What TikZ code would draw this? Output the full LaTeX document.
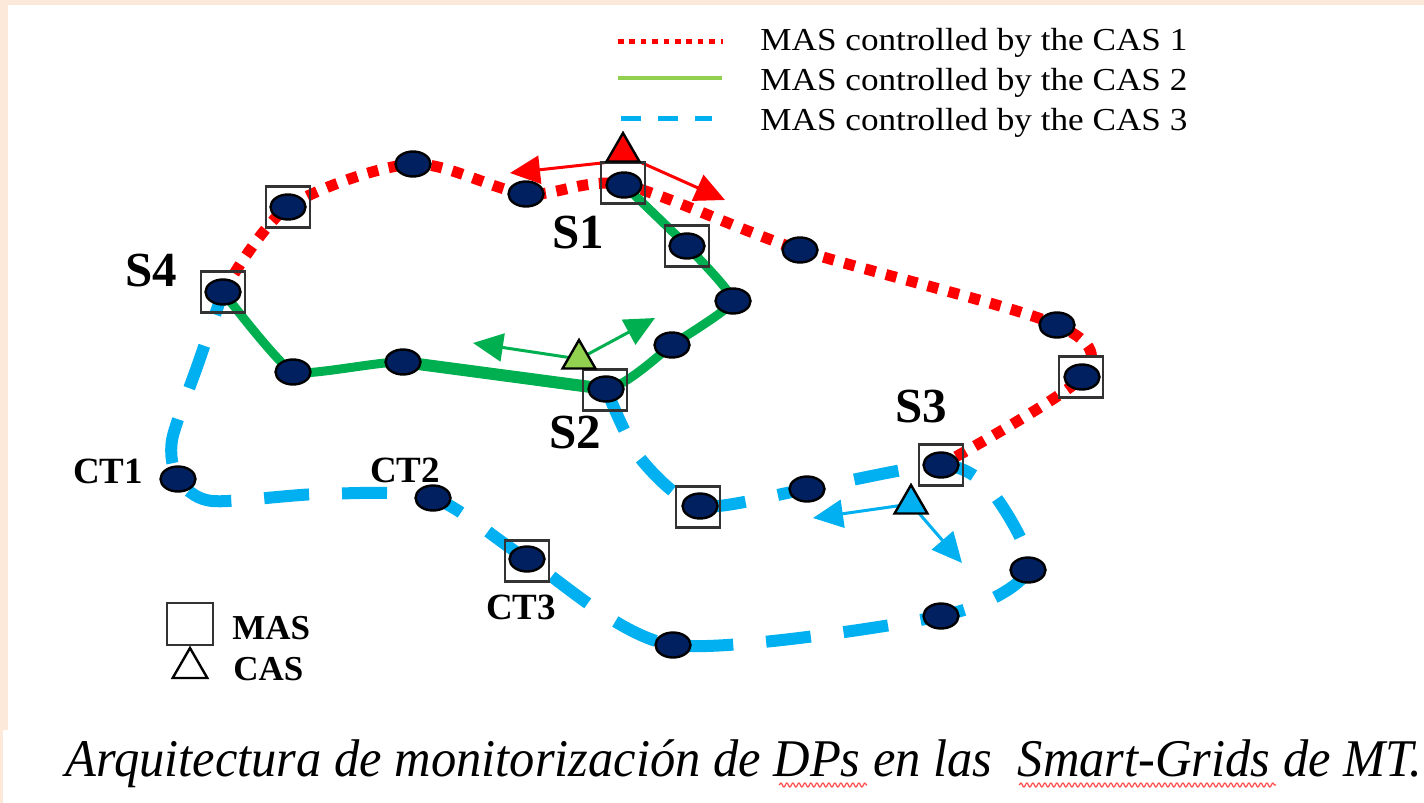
\documentclass[tikz,border=0pt]{standalone}
\usepackage{fontspec}
\setmainfont{Liberation Serif}
\usepackage{graphicx}
\usetikzlibrary{arrows.meta,shapes.geometric,decorations.pathmorphing}
\definecolor{dpnavy}{HTML}{002060}
\definecolor{casred}{HTML}{FF0000}
\definecolor{casgreen}{HTML}{00B050}
\definecolor{lightgreen}{HTML}{92D050}
\definecolor{casblue}{HTML}{00B0F0}
\definecolor{peach}{HTML}{FDE9D9}
\pgfdeclarelayer{paper}
\pgfdeclarelayer{bg}
\pgfdeclarelayer{arr}
\pgfsetlayers{paper,bg,arr,main}
\begin{document}
\begin{tikzpicture}[x=0.5pt,y=-0.5pt,
  dp/.style={ellipse,draw=black,line width=1.2pt,fill=dpnavy,minimum width=17.5pt,minimum height=12.5pt,inner sep=0pt},
  masbox/.style={rectangle,draw=black!80,line width=1.3pt,minimum width=22pt,minimum height=20.5pt,inner sep=0pt},
  castri/.style={regular polygon,regular polygon sides=3,draw=black,line width=1.2pt,minimum size=19pt,inner sep=0pt},
  redroute/.style={draw=casred,line width=5.5pt,dash pattern=on 5.5pt off 5.3pt},
  greenroute/.style={draw=casgreen,line width=4.5pt,line join=round,line cap=round},
  blueroute/.style={draw=casblue,line width=6pt,dash pattern=on 22.5pt off 16.5pt},
  casarrow/.style={line width=1.5pt,-{Triangle[length=15pt,width=14pt]}},
  slabel/.style={inner sep=0pt,font=\fontsize{24.5}{28}\selectfont\bfseries},
  ctlabel/.style={inner sep=0pt,font=\fontsize{18.5}{22}\selectfont\bfseries},
  keylabel/.style={anchor=west,inner sep=0pt,font=\fontsize{17.5}{21}\selectfont\bfseries},
  legtext/.style={anchor=base west,inner sep=0pt,font=\fontsize{16}{19}\selectfont},
  squiggle/.style={draw=red!70,line width=0.6pt,decorate,decoration={snake,amplitude=1pt,segment length=3pt}}
]
\useasboundingbox (0,0) rectangle (1424,803);
\begin{pgfonlayer}{paper}
\fill[white] (0,0) rectangle (1424,803);
\fill[peach] (0,0) rectangle (1424,5);
\fill[peach] (0,0) rectangle (8,730);
\fill[peach] (0,730) rectangle (3,803);
\end{pgfonlayer}

% distribution points
\node[dp] (s4) at (223,292) {};
\node[dp] (r1) at (288,207) {};
\node[dp] (r2) at (413,164) {};
\node[dp] (r3) at (526,194) {};
\node[dp] (s1) at (624,185) {};
\node[dp] (r4) at (800,250) {};
\node[dp] (r5) at (1057,325) {};
\node[dp] (r6) at (1082,377) {};
\node[dp] (s3) at (941,465) {};
\node[dp] (g1) at (687,246) {};
\node[dp] (g2) at (733,301) {};
\node[dp] (g3) at (672,345) {};
\node[dp] (s2) at (606,389) {};
\node[dp] (g4) at (403,362) {};
\node[dp] (g5) at (293,372) {};
\node[dp] (b1) at (700,506) {};
\node[dp] (b2) at (807,489) {};
\node[dp] (b3) at (1028,570) {};
\node[dp] (b4) at (941,616) {};
\node[dp] (b5) at (673,645) {};
\node[dp] (ct3) at (527,559) {};
\node[dp] (ct2) at (433,498) {};
\node[dp] (ct1) at (178,479) {};

% MAS boxes
\node[masbox] (m-s4) at (223,292) {};
\node[masbox] (m-r1) at (288,207) {};
\node[masbox] (m-s1) at (623,183) {};
\node[masbox] (m-g1) at (687,246) {};
\node[masbox] (m-r6) at (1081,377) {};
\node[masbox] (m-s3) at (941,465) {};
\node[masbox] (m-s2) at (605,390) {};
\node[masbox] (m-b1) at (698,507) {};
\node[masbox] (m-ct3) at (527,561) {};

% CAS triangles
\node[castri,fill=casred] (cas1) at (623,152) {};
\node[castri,fill=lightgreen] (cas2) at (579,359) {};
\node[castri,fill=casblue] (cas3) at (911,504) {};

% helper coordinates
\coordinate (k1) at (640,458);
\coordinate (k2) at (992,492);
\coordinate (k3) at (320,494);
\coordinate (k4) at (212,501);
\coordinate (k5) at (172,440);
\coordinate (k6) at (198,364);

\begin{pgfonlayer}{bg}
\draw[redroute] plot[smooth,tension=0.5] coordinates {(s4.center) (r1.center) (r2.center) (r3.center) (s1.center) (r4.center) (r5.center) (r6.center) (s3.center)};
\draw[greenroute] plot[smooth,tension=0.25] coordinates {(s4.center) (g5.center) (g4.center) (s2.center) (g3.center) (g2.center) (g1.center) (s1.center)};
\draw[casgreen,line width=6pt] (g4.center) -- (s2.center);
\draw[blueroute] plot[smooth,tension=0.45] coordinates {(s2.center) (k1) (b1.center) (b2.center) (s3.center) (k2) (b3.center) (b4.center) (b5.center) (ct3.center) (ct2.center) (k3) (k4) (ct1.center) (k5) (k6) (s4.center)};
\end{pgfonlayer}

% arrows
\coordinate (t1) at (510,173);
\coordinate (t2) at (725,200);
\coordinate (t3) at (473,343);
\coordinate (t4) at (655,318);
\coordinate (t5) at (813,518);
\coordinate (t6) at (962,563);
\begin{pgfonlayer}{arr}
\draw[casarrow,casred] (cas1.corner 2) -- (t1);
\draw[casarrow,casred] (cas1.corner 3) -- (t2);
\draw[casarrow,casgreen] (cas2.center) -- (t3);
\draw[casarrow,casgreen] (cas2.center) -- (t4);
\draw[casarrow,casblue] (cas3.center) -- (t5);
\draw[casarrow,casblue] (cas3.center) -- (t6);
\end{pgfonlayer}

% labels
\node[slabel] (ls1) at (578,233) {S1};
\node[slabel] (ls2) at (575,433) {S2};
\node[slabel] (ls3) at (921,407) {S3};
\node[slabel] (ls4) at (151,271) {S4};
\node[ctlabel] (lct1) at (108,471) {CT1};
\node[ctlabel] (lct2) at (405,470) {CT2};
\node[ctlabel] (lct3) at (521,607) {CT3};

% key
\node[masbox,minimum width=23pt,minimum height=21pt] (keymas) at (190,624) {};
\node[castri,fill=white,minimum size=20pt] (keycas) at (190,668) {};
\node[keylabel] (keymast) at (232,628) {MAS};
\node[keylabel] (keycast) at (233,669) {CAS};

% legend
\coordinate (l1a) at (618,41); \coordinate (l1b) at (723,41);
\coordinate (l2a) at (618,78); \coordinate (l2b) at (722,78);
\coordinate (l3a) at (621,118); \coordinate (l3b) at (712,118);
\draw[casred,line width=2.5pt,dash pattern=on 2.8pt off 2.9pt] (l1a) -- (l1b);
\draw[lightgreen,line width=2pt] (l2a) -- (l2b);
\draw[casblue,line width=2.5pt,dash pattern=on 10pt off 8.5pt] (l3a) -- (l3b);
\node[legtext] (lt1) at (760,50) {\resizebox{213.5pt}{\height}{MAS controlled by the CAS 1}};
\node[legtext] (lt2) at (760,90) {\resizebox{213.5pt}{\height}{MAS controlled by the CAS 2}};
\node[legtext] (lt3) at (760,130) {\resizebox{213.5pt}{\height}{MAS controlled by the CAS 3}};

% caption
\node[anchor=base west,inner sep=0pt] (cap) at (65,776) {\resizebox{678.5pt}{\height}{\fontsize{26.5}{30}\selectfont\itshape Arquitectura de monitorización de DPs en las\ \ Smart-Grids de MT.}};
\coordinate (u1a) at (779,785); \coordinate (u1b) at (867,785);
\coordinate (u2a) at (1019,785); \coordinate (u2b) at (1276,785);
\draw[squiggle] (u1a) -- (u1b);
\draw[squiggle] (u2a) -- (u2b);
\end{tikzpicture}
\end{document}
